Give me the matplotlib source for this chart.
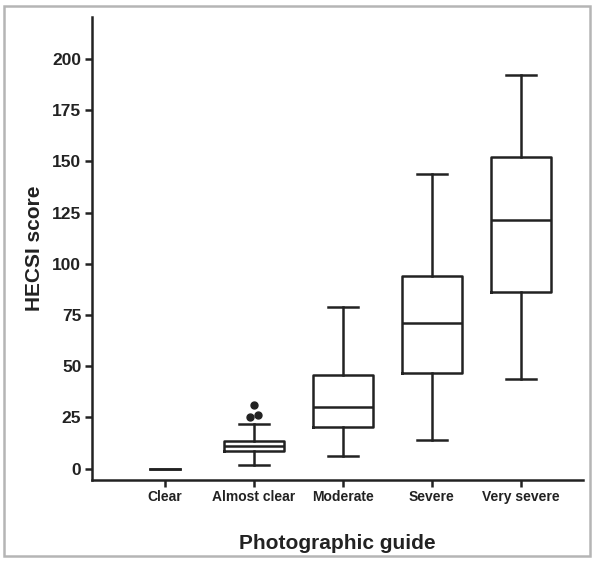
import matplotlib
matplotlib.use('Agg')
import matplotlib.pyplot as plt
from matplotlib.patches import Rectangle

plt.rcParams['font.family'] = ['Liberation Sans', 'DejaVu Sans']

# data
categories = ['Clear', 'Almost clear', 'Moderate', 'Severe', 'Very severe']
whisker_low = [0, 2, 6, 14, 44]
q1 = [0, 8.5, 20.5, 46.5, 86]
median = [0, 11, 30, 71, 121.5]
q3 = [0, 13.5, 45.5, 94, 152]
whisker_high = [0, 22, 79, 144, 192]
outliers = [[], [25, 26, 31], [], [], []]
# sideways spread of tied outliers, as the original software does
outlier_spread = [-0.04, 0.045, 0.0]

stats = []
for i, name in enumerate(categories):
    stats.append({'label': name, 'whislo': whisker_low[i], 'q1': q1[i],
                  'med': median[i], 'q3': q3[i], 'whishi': whisker_high[i],
                  'fliers': []})

fig = plt.figure(figsize=(5.92, 5.62), dpi=100)
ax = fig.add_axes([0.155, 0.146, 0.83, 0.824])

lw = 1.8
line = dict(color='#222222', linewidth=lw)

# "Clear" has every value at 0: only the cap line shows
ax.bxp(stats[:1], positions=[1], widths=0.67, showbox=False,
       whiskerprops=line, capprops=line, medianprops=dict(linewidth=0))
ax.bxp(stats[1:], positions=[2, 3, 4, 5], widths=0.67,
       boxprops=line, whiskerprops=line, capprops=line, medianprops=line)

for i, vals in enumerate(outliers):
    if vals:
        xs = [i + 1 + outlier_spread[j] for j in range(len(vals))]
        ax.plot(xs, vals, 'o', color='#222222', markersize=5)

ax.set_xlim(0.18, 5.7)
ax.set_ylim(-5.5, 220.5)
ax.set_yticks(range(0, 201, 25))
ax.set_xticks([1, 2, 3, 4, 5])
ax.set_xticklabels(categories, fontsize=10, fontweight='bold', color='#222222')
for lab in ax.get_yticklabels():
    lab.set_fontsize(12.5)
    lab.set_fontweight('bold')
    lab.set_color('#222222')

ax.spines['top'].set_visible(False)
ax.spines['right'].set_visible(False)
for s in ['left', 'bottom']:
    ax.spines[s].set_linewidth(lw)
    ax.spines[s].set_color('#222222')
ax.tick_params(direction='out', length=5, width=lw, color='#222222')
ax.tick_params(axis='x', pad=2.5)
ax.tick_params(axis='y', pad=2.5)

ax.set_ylabel('HECSI score', fontsize=15, fontweight='bold', color='#222222', labelpad=6)
ax.set_xlabel('Photographic guide', fontsize=15, fontweight='bold', color='#222222', labelpad=21)

# light grey frame around the whole figure
fig.patches.append(Rectangle((4 / 592, 6 / 562), 586 / 592, 550 / 562,
                             transform=fig.transFigure, fill=False,
                             edgecolor='#b5b5b5', linewidth=1.8))

fig.savefig('out.png', dpi=100)
